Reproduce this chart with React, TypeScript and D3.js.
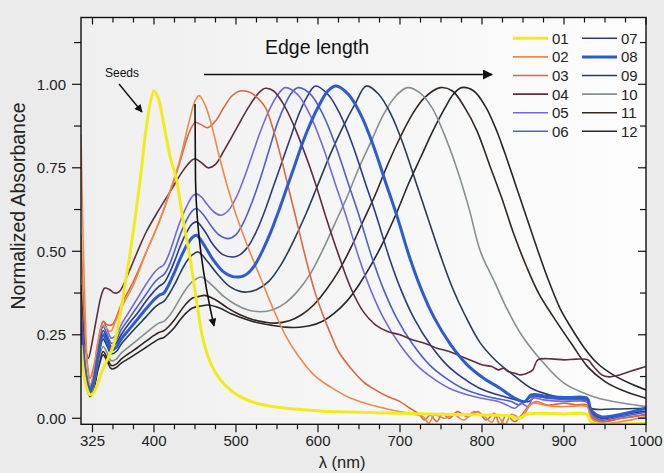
import React from 'react';
import * as d3 from 'd3';

type P = [number, number];

const xMajorTicks = [325, 400, 500, 600, 700, 800, 900, 1000];
const xMinorTicks = [350, 375, 425, 450, 475, 525, 550, 575, 625, 650, 675, 725, 750, 775, 825, 850, 875, 925, 950, 975];
const yMajorTicks = [0, 0.25, 0.5, 0.75, 1.0];
const yMinorTicks = [0.125, 0.375, 0.625, 0.875, 1.125];

const seriesNames = ['01', '02', '03', '04', '05', '06', '07', '08', '09', '10', '11', '12'];
const seriesColors = ['#f3ea1e', '#ee8a48', '#d9693f', '#5e2c44', '#736ad8', '#4a60c6', '#2b3985', '#2d5bd0', '#263d57', '#858f8f', '#34251f', '#25272c'];

const s01: P[] = [[311,0.22],[314,0.14],[318,0.09],[322,0.07],[326,0.075],[330,0.095],[335,0.13],[340,0.16],[346,0.19],[352,0.23],[358,0.3],[364,0.39],[370,0.48],[376,0.58],[383,0.71],[390,0.86],[396,0.95],[400,0.98],[405,0.96],[412,0.88],[420,0.78],[427,0.72],[435,0.6],[444,0.48],[452,0.35],[460,0.234],[470,0.16],[481,0.115],[493,0.085],[505,0.065],[525,0.045],[554,0.032],[585,0.025],[615,0.02],[650,0.018],[700,0.015],[750,0.012],[800,0.01],[830,0.008],[845,0.0],[855,0.012],[870,0.015],[900,0.013],[928,0.012],[933,-0.012],[960,-0.018],[1000,-0.015]];
const s02: P[] = [[311,0.85],[313,0.6],[316,0.32],[319,0.15],[322,0.1],[326,0.13],[331,0.22],[337,0.28],[342,0.27],[347,0.26],[353,0.29],[360,0.33],[375,0.4],[391,0.5],[405,0.58],[418,0.67],[430,0.76],[442,0.88],[450,0.95],[455,0.966],[462,0.94],[470,0.88],[480,0.78],[490,0.69],[500,0.61],[515,0.51],[530,0.42],[545,0.33],[560,0.25],[575,0.19],[595,0.13],[615,0.094],[640,0.06],[665,0.04],[690,0.025],[710,0.015],[728,0.005],[735,-0.015],[742,0.01],[755,0.0],[765,0.012],[778,-0.005],[790,0.02],[800,0.012],[812,-0.012],[818,0.01],[828,-0.018],[836,0.012],[848,0.0],[856,0.03],[862,0.045],[875,0.04],[890,0.035],[910,0.036],[928,0.035],[933,0.0],[945,-0.015],[970,-0.01],[1000,0.005]];
const s03: P[] = [[311,0.55],[314,0.35],[318,0.18],[322,0.12],[327,0.16],[332,0.23],[338,0.29],[343,0.28],[349,0.28],[360,0.34],[375,0.41],[391,0.5],[405,0.58],[420,0.68],[432,0.77],[442,0.85],[450,0.885],[457,0.88],[465,0.87],[475,0.89],[485,0.93],[495,0.965],[505,0.98],[518,0.975],[528,0.955],[536,0.93],[546,0.86],[556,0.77],[566,0.67],[576,0.57],[586,0.47],[596,0.38],[606,0.31],[615,0.255],[625,0.2],[640,0.15],[655,0.11],[670,0.085],[685,0.065],[700,0.05],[712,0.03],[722,0.015],[730,-0.005],[737,0.01],[745,-0.01],[752,0.015],[760,0.0],[770,0.02],[782,0.005],[795,0.02],[805,-0.005],[815,0.015],[822,-0.02],[830,0.01],[840,-0.01],[850,0.015],[858,0.04],[866,0.05],[880,0.04],[900,0.045],[915,0.04],[928,0.04],[933,0.005],[945,-0.01],[970,0.0],[1000,0.01]];
const s04: P[] = [[311,0.4],[314,0.28],[317,0.2],[320,0.18],[324,0.22],[330,0.3],[336,0.37],[340,0.39],[346,0.385],[352,0.375],[358,0.38],[368,0.43],[380,0.5],[391,0.56],[405,0.62],[420,0.68],[435,0.74],[445,0.77],[450,0.777],[458,0.765],[466,0.75],[475,0.76],[485,0.8],[500,0.865],[515,0.93],[528,0.975],[536,0.988],[546,0.98],[558,0.94],[570,0.88],[583,0.8],[596,0.71],[610,0.6],[625,0.49],[640,0.39],[655,0.32],[670,0.28],[685,0.26],[700,0.25],[715,0.235],[730,0.225],[745,0.21],[760,0.2],[775,0.185],[790,0.17],[800,0.16],[812,0.155],[820,0.145],[826,0.15],[832,0.14],[840,0.135],[847,0.13],[855,0.135],[862,0.145],[868,0.175],[885,0.178],[900,0.175],[915,0.177],[929,0.175],[936,0.155],[946,0.13],[955,0.124],[965,0.128],[980,0.14],[1000,0.155]];
const s05: P[] = [[311,0.33],[314,0.22],[318,0.13],[322,0.095],[326,0.12],[332,0.22],[338,0.29],[343,0.265],[348,0.24],[354,0.25],[360,0.28],[370,0.32],[380,0.36],[390,0.4],[400,0.435],[406,0.45],[412,0.46],[418,0.49],[425,0.54],[432,0.59],[440,0.635],[447,0.665],[452,0.672],[458,0.662],[465,0.64],[473,0.618],[481,0.608],[490,0.62],[500,0.66],[510,0.72],[520,0.79],[530,0.86],[540,0.92],[550,0.965],[560,0.99],[575,0.97],[590,0.91],[605,0.82],[620,0.71],[635,0.6],[650,0.48],[665,0.38],[680,0.3],[700,0.22],[720,0.16],[740,0.12],[760,0.09],[790,0.065],[820,0.05],[830,0.04],[840,0.03],[848,0.045],[856,0.035],[862,0.06],[875,0.055],[900,0.05],[928,0.048],[933,0.012],[945,-0.01],[970,0.0],[1000,0.012]];
const s06: P[] = [[311,0.31],[314,0.2],[318,0.12],[322,0.09],[326,0.115],[332,0.21],[338,0.275],[343,0.25],[348,0.225],[354,0.235],[360,0.265],[370,0.3],[380,0.335],[390,0.37],[400,0.405],[406,0.42],[412,0.43],[418,0.455],[425,0.5],[432,0.55],[440,0.595],[447,0.622],[452,0.628],[460,0.61],[470,0.575],[480,0.548],[491,0.538],[500,0.55],[510,0.59],[520,0.65],[530,0.72],[540,0.8],[550,0.88],[560,0.94],[568,0.975],[576,0.99],[591,0.97],[606,0.91],[621,0.82],[636,0.71],[651,0.6],[666,0.48],[681,0.38],[696,0.3],[716,0.22],[736,0.16],[756,0.12],[776,0.09],[806,0.065],[836,0.05],[845,0.04],[852,0.05],[862,0.065],[880,0.06],[905,0.055],[928,0.053],[933,0.015],[945,-0.005],[970,0.005],[1000,0.018]];
const s07: P[] = [[311,0.3],[314,0.19],[318,0.115],[322,0.085],[326,0.11],[332,0.2],[338,0.262],[343,0.24],[348,0.215],[354,0.225],[360,0.25],[370,0.285],[380,0.315],[390,0.35],[400,0.38],[406,0.395],[412,0.405],[418,0.43],[425,0.47],[432,0.515],[440,0.558],[447,0.583],[452,0.588],[462,0.56],[472,0.52],[484,0.49],[497,0.483],[505,0.49],[515,0.515],[525,0.56],[535,0.62],[545,0.69],[555,0.76],[565,0.83],[575,0.9],[585,0.955],[597,0.995],[612,0.97],[627,0.91],[642,0.82],[657,0.71],[672,0.6],[687,0.48],[702,0.38],[717,0.3],[737,0.22],[757,0.16],[777,0.12],[797,0.09],[827,0.065],[857,0.05],[865,0.065],[885,0.06],[905,0.058],[928,0.056],[933,0.02],[945,0.0],[970,0.01],[1000,0.022]];
const s08: P[] = [[311,0.29],[314,0.185],[318,0.11],[322,0.082],[326,0.105],[332,0.19],[338,0.25],[343,0.228],[348,0.205],[354,0.213],[360,0.237],[370,0.267],[380,0.297],[390,0.327],[400,0.355],[406,0.368],[412,0.375],[418,0.4],[425,0.437],[432,0.478],[440,0.518],[447,0.542],[452,0.548],[462,0.515],[472,0.475],[484,0.44],[495,0.425],[503,0.423],[512,0.43],[522,0.455],[532,0.5],[542,0.555],[552,0.62],[562,0.69],[572,0.76],[582,0.83],[592,0.89],[602,0.94],[612,0.98],[622,0.995],[637,0.97],[652,0.91],[667,0.82],[682,0.71],[697,0.6],[712,0.48],[727,0.38],[742,0.3],[762,0.22],[782,0.16],[802,0.12],[822,0.09],[840,0.06],[852,0.05],[860,0.07],[880,0.065],[905,0.062],[928,0.06],[933,0.025],[945,0.005],[970,0.012],[1000,0.03]];
const s09: P[] = [[311,0.28],[314,0.18],[318,0.105],[322,0.078],[326,0.1],[332,0.18],[338,0.237],[343,0.215],[348,0.193],[354,0.2],[360,0.222],[370,0.25],[380,0.277],[390,0.303],[400,0.33],[406,0.342],[412,0.35],[418,0.37],[425,0.4],[432,0.435],[440,0.47],[447,0.49],[454,0.498],[465,0.47],[478,0.43],[492,0.395],[505,0.38],[513,0.378],[525,0.385],[540,0.41],[555,0.46],[570,0.53],[585,0.61],[600,0.7],[615,0.79],[630,0.87],[645,0.94],[659,0.995],[674,0.97],[689,0.91],[704,0.82],[719,0.71],[734,0.6],[749,0.49],[764,0.39],[779,0.31],[798,0.225],[818,0.17],[838,0.13],[860,0.09],[890,0.065],[928,0.05],[933,0.03],[960,0.028],[1000,0.03]];
const s10: P[] = [[311,0.26],[314,0.17],[318,0.1],[322,0.072],[326,0.092],[332,0.165],[338,0.215],[343,0.195],[348,0.172],[354,0.177],[360,0.195],[370,0.215],[380,0.235],[390,0.255],[400,0.275],[406,0.285],[412,0.29],[418,0.305],[425,0.33],[432,0.36],[440,0.39],[447,0.41],[452,0.418],[458,0.423],[470,0.4],[485,0.365],[500,0.34],[515,0.324],[530,0.319],[545,0.325],[560,0.345],[575,0.38],[590,0.43],[605,0.5],[620,0.58],[635,0.66],[650,0.75],[665,0.83],[680,0.91],[695,0.965],[709,0.99],[724,0.975],[739,0.93],[754,0.85],[769,0.75],[784,0.63],[798,0.5],[815,0.41],[830,0.33],[847,0.254],[870,0.18],[900,0.105],[930,0.07],[960,0.05],[1000,0.035]];
const s11: P[] = [[311,0.25],[314,0.165],[318,0.095],[322,0.068],[326,0.086],[332,0.155],[338,0.2],[343,0.18],[348,0.158],[354,0.162],[360,0.177],[370,0.195],[380,0.212],[390,0.23],[400,0.248],[406,0.257],[412,0.262],[418,0.275],[425,0.295],[432,0.32],[440,0.345],[447,0.36],[455,0.365],[462,0.368],[475,0.355],[490,0.33],[505,0.31],[520,0.296],[535,0.288],[548,0.285],[565,0.292],[580,0.31],[595,0.34],[610,0.385],[625,0.44],[640,0.51],[655,0.59],[670,0.67],[685,0.76],[700,0.84],[715,0.91],[730,0.96],[749,0.99],[764,0.98],[779,0.93],[794,0.86],[809,0.76],[824,0.66],[839,0.55],[855,0.45],[870,0.37],[888,0.3],[910,0.22],[929,0.154],[950,0.11],[975,0.08],[1000,0.06]];
const s12: P[] = [[311,0.24],[314,0.16],[318,0.09],[322,0.065],[326,0.082],[332,0.148],[338,0.19],[343,0.17],[348,0.148],[354,0.152],[360,0.165],[370,0.18],[380,0.196],[390,0.212],[400,0.228],[406,0.237],[412,0.242],[418,0.254],[425,0.272],[432,0.295],[440,0.317],[447,0.33],[457,0.336],[466,0.339],[480,0.33],[495,0.312],[510,0.298],[525,0.287],[545,0.278],[560,0.273],[572,0.272],[590,0.277],[605,0.29],[620,0.315],[635,0.35],[650,0.4],[665,0.46],[680,0.53],[695,0.61],[710,0.7],[725,0.78],[740,0.86],[755,0.93],[765,0.97],[775,0.99],[790,0.98],[805,0.93],[818,0.86],[827,0.8],[845,0.67],[861,0.553],[880,0.42],[895,0.33],[908,0.274],[925,0.21],[941,0.164],[960,0.13],[980,0.105],[1000,0.085]];

const seriesData: P[][] = [s01, s02, s03, s04, s05, s06, s07, s08, s09, s10, s11, s12];
const thickSeries = ['01', '08'];

const LEFT = 81, RIGHT = 646, TOP = 17.5, BOTTOM = 424.3;

export default function App() {
  const x = d3.scaleLinear().domain([311, 1000]).range([LEFT, RIGHT]);
  const y = d3.scaleLinear().domain([-0.018, 1.2]).range([BOTTOM, TOP]);
  const line = d3.line<P>().x(d => x(d[0])).y(d => y(d[1])).curve(d3.curveCatmullRom.alpha(0.5));
  const font = 'Arial, "Liberation Sans", Helvetica, sans-serif';
  const order = [11, 10, 9, 8, 6, 5, 4, 3, 2, 1, 7, 0];
  const legRowY = (i: number) => 38.3 + i * 18.6;

  return (
    <svg width={664} height={473} style={{ position: 'absolute', left: 0, top: 0, fontFamily: font }}>
      <defs>
        <linearGradient id="bg" x1="0" x2="1" y1="0" y2="0">
          <stop offset="0" stopColor="#efefef" />
          <stop offset="1" stopColor="#fdfdfd" />
        </linearGradient>
        <clipPath id="clip">
          <rect x={LEFT} y={TOP} width={RIGHT - LEFT} height={BOTTOM - TOP} />
        </clipPath>
        <marker id="bigHead" viewBox="0 0 10 10" refX="9" refY="5" markerWidth="15" markerHeight="10" markerUnits="userSpaceOnUse" orient="auto">
          <path d="M0,0 L10,5 L0,10 z" fill="#111" />
        </marker>
        <marker id="smallHead" viewBox="0 0 10 10" refX="9" refY="5" markerWidth="10" markerHeight="8" markerUnits="userSpaceOnUse" orient="auto">
          <path d="M0,0 L10,5 L0,10 z" fill="#111" />
        </marker>
      </defs>
      <rect x={0} y={0} width={664} height={473} fill="#ebebeb" />
      <rect x={LEFT} y={TOP} width={RIGHT - LEFT} height={BOTTOM - TOP} fill="url(#bg)" />

      <g clipPath="url(#clip)">
        {order.map(i => (
          <path key={seriesNames[i]} d={line(seriesData[i]) || ''} fill="none" stroke={seriesColors[i]}
            strokeWidth={thickSeries.includes(seriesNames[i]) ? 3 : 1.6} strokeLinejoin="round" />
        ))}
      </g>

      <rect x={LEFT} y={TOP} width={RIGHT - LEFT} height={BOTTOM - TOP} fill="none" stroke="#111" strokeWidth={1.4} />

      {xMajorTicks.map(t => (
        <g key={'xM' + t}>
          <line x1={x(t)} x2={x(t)} y1={BOTTOM} y2={BOTTOM + 8} stroke="#111" strokeWidth={1.2} />
          <line x1={x(t)} x2={x(t)} y1={TOP} y2={TOP + 7} stroke="#111" strokeWidth={1.2} />
          <text x={x(t)} y={446} textAnchor="middle" fontSize={15} fill="#222">{t}</text>
        </g>
      ))}
      {xMinorTicks.map(t => (
        <g key={'xm' + t}>
          <line x1={x(t)} x2={x(t)} y1={BOTTOM} y2={BOTTOM + 5} stroke="#111" strokeWidth={1.2} />
          <line x1={x(t)} x2={x(t)} y1={TOP} y2={TOP + 5} stroke="#111" strokeWidth={1.2} />
        </g>
      ))}
      {yMajorTicks.map(t => (
        <g key={'yM' + t}>
          <line x1={LEFT - 9} x2={LEFT} y1={y(t)} y2={y(t)} stroke="#111" strokeWidth={1.2} />
          <line x1={RIGHT - 8} x2={RIGHT} y1={y(t)} y2={y(t)} stroke="#111" strokeWidth={1.2} />
          <text x={66} y={y(t)} dy="0.36em" textAnchor="end" fontSize={15} fill="#222">{t.toFixed(2)}</text>
        </g>
      ))}
      {yMinorTicks.map(t => (
        <g key={'ym' + t}>
          <line x1={LEFT - 7} x2={LEFT} y1={y(t)} y2={y(t)} stroke="#111" strokeWidth={1.2} />
          <line x1={RIGHT - 6} x2={RIGHT} y1={y(t)} y2={y(t)} stroke="#111" strokeWidth={1.2} />
        </g>
      ))}

      <text x={342} y={468} textAnchor="middle" fontSize={16.5} fill="#222">λ (nm)</text>
      <text transform="translate(25,206) rotate(-90)" textAnchor="middle" fontSize={19.5} fill="#222">Normalized Absorbance</text>

      <text x={317} y={54} textAnchor="middle" fontSize={19.5} fill="#111">Edge length</text>
      <line x1={204} y1={74.5} x2={492} y2={74.5} stroke="#111" strokeWidth={1.6} markerEnd="url(#bigHead)" />
      <text x={122} y={77} textAnchor="middle" fontSize={12} fill="#111">Seeds</text>
      <line x1={119} y1={84} x2={142} y2={112} stroke="#111" strokeWidth={1.4} markerEnd="url(#smallHead)" />
      <path d="M195,104 L195.5,180 C196.5,235 204,282 214,326" fill="none" stroke="#111" strokeWidth={1.6} markerEnd="url(#smallHead)" />

      {seriesNames.map((n, i) => {
        const col = i < 6 ? 0 : 1;
        const row = i % 6;
        const lx = col === 0 ? 513 : 582;
        const ly = legRowY(row);
        return (
          <g key={'leg' + n}>
            <line x1={lx} x2={lx + 35} y1={ly} y2={ly} stroke={seriesColors[i]} strokeWidth={thickSeries.includes(n) ? 3 : 1.6} />
            <text x={lx + 39} y={ly} dy="0.36em" fontSize={15} fill="#222">{n}</text>
          </g>
        );
      })}
    </svg>
  );
}
